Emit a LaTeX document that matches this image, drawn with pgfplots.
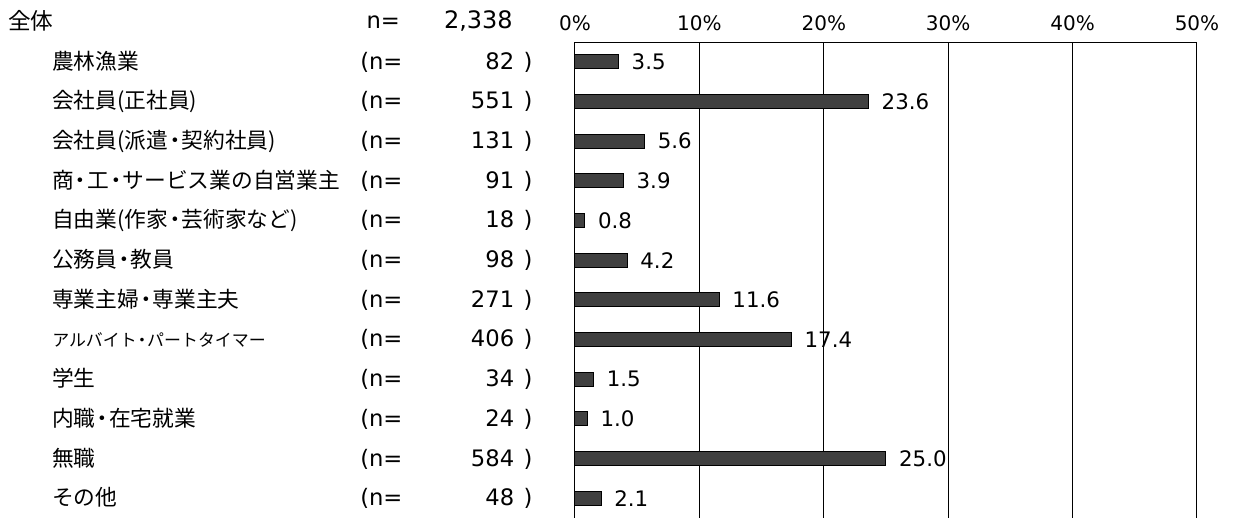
\documentclass[border=0pt]{standalone}
\usepackage{pgfplots}
\pgfplotsset{compat=1.18}
\usepackage{fontspec}
\setmainfont{DejaVu Sans}
\newfontfamily\jp{Noto Sans CJK JP}
\definecolor{barfill}{HTML}{404040}
\newcommand{\dt}{\makebox[0.62em][c]{・}}
\newcommand{\lab}[2]{\makebox[231pt][l]{\jp\fontsize{16.3}{18}\selectfont #1}\makebox[115.5pt][l]{\fontsize{17}{19}\selectfont(n=\hfill #2}\hspace{7pt}{\fontsize{17}{19}\selectfont)}}
\begin{document}
\begin{tikzpicture}
\path[use as bounding box] (-431.25pt,0) rectangle (493.5pt,388.5pt);
\begin{axis}[
  at={(0,0)}, anchor=south west,
  scale only axis, width=466.5pt, height=357pt,
  xmin=0, xmax=50, ymin=-0.5, ymax=11.5, y dir=reverse,
  axis x line*=top, axis y line*=left,
  axis line style={black, line width=0.75pt},
  xmajorgrids, grid style={black, line width=0.75pt},
  xtick={0,10,...,50},
  xticklabels={0\%,10\%,20\%,30\%,40\%,50\%},
  xticklabel style={anchor=base, yshift=9pt, inner sep=0pt},
  major tick length=0pt,
  ytick={0,...,11},
  yticklabels={
    {\lab{農林漁業}{82}},
    {\lab{会社員(正社員)}{551}},
    {\lab{会社員(派遣\dt 契約社員)}{131}},
    {\lab{商\dt 工\dt サービス業の自営業主}{91}},
    {\lab{自由業(作家\dt 芸術家など)}{18}},
    {\lab{公務員\dt 教員}{98}},
    {\lab{専業主婦\dt 専業主夫}{271}},
    {\lab{\fontsize{12.7}{14}\selectfont アルバイト\dt パートタイマー}{406}},
    {\lab{学生}{34}},
    {\lab{内職\dt 在宅就業}{24}},
    {\lab{無職}{584}},
    {\lab{その他}{48}}},
  yticklabel style={anchor=west, inner sep=0pt, xshift=-392.25pt},
  tick label style={font=\fontsize{15}{18}\selectfont},
  /pgf/number format/assume math mode=true,
  xbar, bar width=10.5pt,
  nodes near coords={\pgfmathprintnumber[fixed,fixed zerofill,precision=1]{\pgfplotspointmeta}},
  nodes near coords style={anchor=west, inner sep=0pt, xshift=9.5pt, font=\fontsize{16}{18}\selectfont, text=black},
  clip=false,
]
\addplot[fill=barfill, draw=black, line width=0.75pt] coordinates {
  (3.5,0) (23.6,1) (5.6,2) (3.9,3) (0.8,4) (4.2,5)
  (11.6,6) (17.4,7) (1.5,8) (1.0,9) (25.0,10) (2.1,11)};
\node[anchor=west, inner sep=0pt, font=\jp\fontsize{17}{19}\selectfont] at ([xshift=-425.25pt, yshift=16pt]axis description cs:0,1) {全体};
\node[anchor=base west, inner sep=0pt, font=\fontsize{17}{19}\selectfont] at ([xshift=-156.5pt, yshift=10pt]axis description cs:0,1) {n=};
\node[anchor=base east, inner sep=0pt, font=\fontsize{18}{20}\selectfont] at ([xshift=-46.5pt, yshift=10pt]axis description cs:0,1) {2,338};
\end{axis}
\end{tikzpicture}
\end{document}
